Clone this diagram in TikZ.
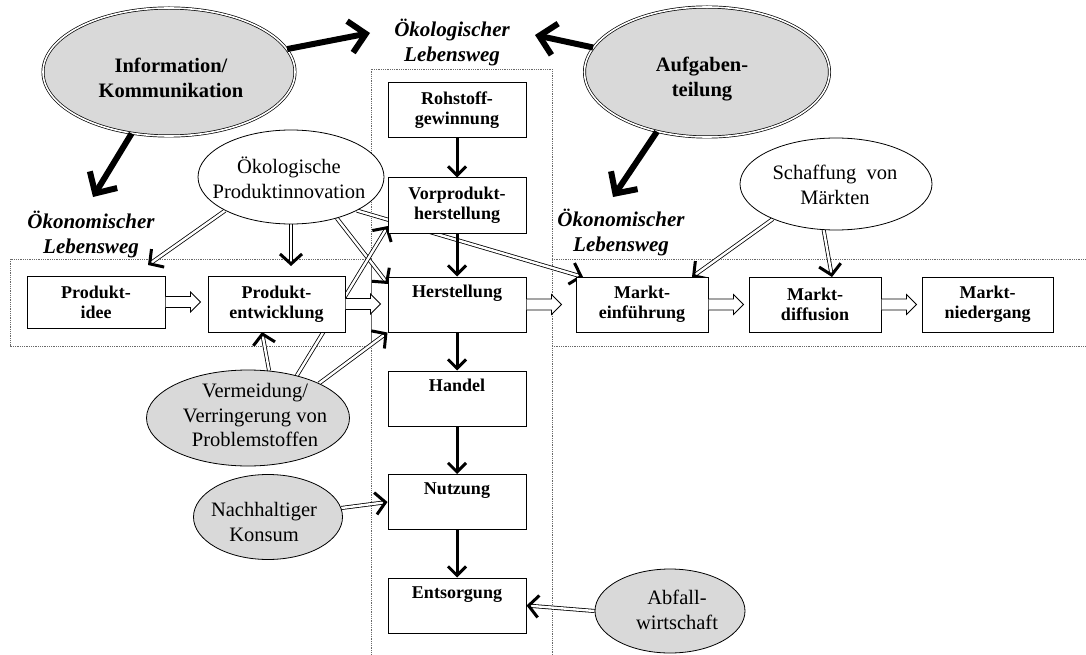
\documentclass[tikz,border=0pt]{standalone}
\usepackage{fontspec}
\setmainfont{Liberation Serif}
\usetikzlibrary{arrows.meta,shapes.geometric,calc}
\pgfdeclarelayer{background}
\pgfsetlayers{background,main}
\definecolor{ellgray}{RGB}{217,217,217}
\definecolor{framegray}{RGB}{105,105,105}
\newcommand\dblarrow[2]{%
  \draw[dblshaft] (#1) -- (#2);
  \path[tips, dbltip] (#1) -- (#2);}
\newcommand\hollowarrow[2]{%
  \draw[hollowarr] let \p1=(#1.east), \p2=(#2.west) in
    (\x1,\y1+5.5pt) -- (\x1+25pt,\y1+5.5pt) -- (\x1+25pt,\y1+10pt) --
    (\x1+35pt,\y1) -- (\x1+25pt,\y1-10pt) -- (\x1+25pt,\y1-5.5pt) -- (\x1,\y1-5.5pt);}
\begin{document}
\begin{tikzpicture}[x=1pt,y=-1pt,
  procbox/.style={draw, line width=1pt, fill=white, minimum width=138pt,
    minimum height=55pt, inner sep=0pt, align=center,
    font=\bfseries\fontsize{18}{20}\selectfont},
  ellshape/.style={ellipse, draw, line width=0.8pt, inner sep=0pt},
  bigell/.style={ellipse, draw, double, double distance=1.6pt, line width=0.7pt,
    fill=ellgray, inner sep=0pt},
  etext/.style={align=center, inner sep=0pt, font=\fontsize{20.5}{24.5}\selectfont},
  btext/.style={align=center, inner sep=0pt, font=\bfseries\fontsize{20.5}{25}\selectfont},
  lbl/.style={align=center, inner sep=0pt, font=\bfseries\itshape\fontsize{21}{25}\selectfont},
  frame/.style={draw=framegray, line width=0.8pt, densely dotted},
  dblshaft/.style={double, double distance=2.4pt, line width=0.8pt, shorten >=2.5pt},
  dbltip/.style={line width=3pt, -{Straight Barb[length=10pt,width=22pt]}},
  colarrow/.style={line width=3pt, -{Straight Barb[length=9pt,width=18pt]}},
  bigarr/.style={line width=6pt, -{Straight Barb[length=16pt,width=32pt]}},
  hollowarr/.style={draw, line width=0.8pt, fill=white}
]
\useasboundingbox (0,0) rectangle (1086,655);

% ellipses
\node[bigell, minimum width=252pt, minimum height=128pt] (info) at (169,72) {};
\node[btext] (infoT) at (171,78) {Information/\\Kommunikation};
\node[bigell, minimum width=245pt, minimum height=130pt] (aufg) at (707,72) {};
\node[btext] (aufgT) at (702,79) {Aufgaben-\\teilung};
\node[ellshape, fill=white, minimum width=186pt, minimum height=94pt] (oeko) at (291,177) {};
\node[etext] (oekoT) at (289,178) {Ökologische\\Produktinnovation};
\node[ellshape, fill=white, minimum width=192pt, minimum height=92pt] (schaff) at (836,184) {};
\node[etext] (schaffT) at (835,185) {Schaffung\ \ von\\Märkten};
\node[ellshape, fill=ellgray, minimum width=203pt, minimum height=96pt] (verm) at (248,418) {};
\node[etext] (vermT) at (255,415) {Vermeidung/\\Verringerung von\\Problemstoffen};
\node[ellshape, fill=ellgray, minimum width=149pt, minimum height=85pt] (nach) at (268,517) {};
\node[etext] (nachT) at (264,522) {Nachhaltiger\\Konsum};
\node[ellshape, fill=ellgray, minimum width=150pt, minimum height=84pt] (abf) at (670,611) {};
\node[etext] (abfT) at (677,610) {Abfall-\\wirtschaft};

% labels
\node[lbl] (lOeko) at (452,43) {Ökologischer\\Lebensweg};
\node[lbl] (lOekL) at (91,234) {Ökonomischer\\Lebensweg};
\node[lbl] (lOekR) at (621,232) {Ökonomischer\\Lebensweg};

% process boxes: ecological column
\node[procbox] (roh) at (457,110.5) {Rohstoff-\\gewinnung};
\node[procbox] (vor) at (457,205.5) {Vorprodukt-\\herstellung};
\node[procbox] (her) at (457,304.5) {Herstellung\\\strut};
\node[procbox] (han) at (457,398.5) {Handel\\\strut};
\node[procbox] (nut) at (457,502) {Nutzung\\\strut};
\node[procbox] (ent) at (457,605.5) {Entsorgung\\\strut};
% economic row
\node[procbox, minimum height=52pt] (idee) at (96,302) {Produkt-\\idee};
\node[procbox, minimum width=137pt, minimum height=56pt] (entw) at (276.5,304) {Produkt-\\entwicklung};
\node[procbox, minimum width=132pt] (mein) at (642,304.5) {Markt-\\einführung};
\node[procbox, minimum width=132pt] (mdif) at (815,304.5) {Markt-\\diffusion};
\node[procbox, minimum width=131pt] (mnie) at (987.5,304.5) {Markt-\\niedergang};

% free ends
\coordinate (tA) at (370,33);
\coordinate (tB) at (93,197);
\coordinate (tC) at (535,35);
\coordinate (tD) at (613,197);
\coordinate (p1) at (148,265);
\coordinate (p2) at (291,266);
\coordinate (p3) at (388,284);
\coordinate (p4) at (583,277);
\coordinate (p5) at (262,332);
\coordinate (p6) at (388,226);
\coordinate (p8) at (692,277);
\coordinate (p9) at (832,277);

\begin{pgfonlayer}{background}
  % dotted frames
  \draw[frame] (10,259) rectangle (371,346);
  \draw[frame] (371,660) -- (371,69) -- (552,69) -- (552,660);
  \draw[frame] (552,259) -- (1090,259);
  \draw[frame] (552,346) -- (1090,346);
  % double arrows
  \dblarrow{oeko.-153}{p1}
  \dblarrow{oeko.-90}{p2}
  \dblarrow{oeko.-42}{p3}
  \dblarrow{oeko.-27}{p4}
  \dblarrow{verm.66}{p5}
  \dblarrow{verm.41}{p6}
  \dblarrow{verm.26}{her.south west}
  \dblarrow{nach.7}{nut.west}
  \dblarrow{abf.180}{ent.east}
  \dblarrow{schaff.-151}{p8}
  \dblarrow{schaff.-105}{p9}
\end{pgfonlayer}

% column arrows
\draw[colarrow] (roh) -- (vor);
\draw[colarrow] (vor) -- (her);
\draw[colarrow] (her) -- (han);
\draw[colarrow] (han) -- (nut);
\draw[colarrow] (nut) -- (ent);

% hollow arrows
\hollowarrow{idee}{entw}
\hollowarrow{entw}{her}
\hollowarrow{her}{mein}
\hollowarrow{mein}{mdif}
\hollowarrow{mdif}{mnie}

% thick arrows
\draw[bigarr] (info) -- (tA);
\draw[bigarr] (info) -- (tB);
\draw[bigarr] (aufg) -- (tC);
\draw[bigarr] (aufg.-130) -- (tD);
\end{tikzpicture}
\end{document}
